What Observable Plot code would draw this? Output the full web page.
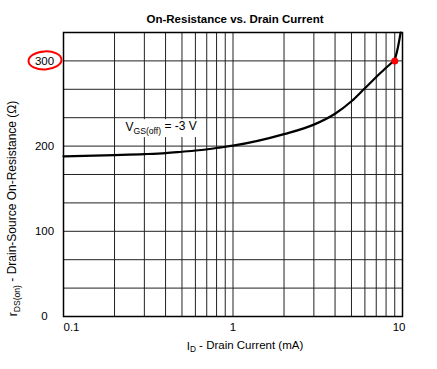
<!DOCTYPE html>
<html><head><meta charset="utf-8">
<script src="https://cdn.jsdelivr.net/npm/d3@7"></script>
<script src="https://cdn.jsdelivr.net/npm/@observablehq/plot@0.6"></script>
<style>body{margin:0;background:#fff}</style>
</head><body><div id="chart"></div>
<script>
const current = [0.1, 0.2, 0.3, 0.4, 0.5, 0.65, 0.85, 1, 2, 3, 4, 5, 6, 7, 8, 8.6, 9, 9.4, 9.75];
const resistance = [188, 189.5, 190.6, 191.8, 193.4, 195.4, 198.5, 200.5, 214, 225.2, 238, 252.6, 268, 281, 292, 297.5, 302, 316, 333.3];
const xGrid = [0.1,0.2,0.3,0.4,0.5,0.6,0.7,0.8,0.9,1,2,3,4,5,6,7,8,9,10];
const yGrid = [0, 33.33, 66.67, 100, 133.33, 166.67, 200, 233.33, 266.67, 300];
const yTicks = [0, 100, 200, 300];
const xTicks = [0.1, 1, 10];
const xTickLabels = ["0.1", "1", "10"];
const marker = [{I: 9, R: 300}];
const curveLabel = [{I: 0.232, R: 222, text: "V"}];
const title = "On-Resistance vs. Drain Current";
const xTitle = "ID - Drain Current (mA)";
const yTitle = "rDS(on) - Drain-Source On-Resistance (Ω)";

const data = current.map((d, i) => ({I: d, R: resistance[i]}));
const font = "'Liberation Sans', Arial, sans-serif";

const chart = Plot.plot({
  width: 437, height: 369,
  marginLeft: 63, marginRight: 35, marginTop: 32, marginBottom: 53,
  x: {type: "log", domain: [0.1, 10], axis: null},
  y: {domain: [0, 333.33], axis: null},
  style: {fontFamily: font, fontSize: "11px", background: "white", color: "black"},
  marks: [
    Plot.ruleX(xGrid, {stroke: "#222", strokeWidth: 1}),
    Plot.ruleY(yGrid, {stroke: "#222", strokeWidth: 1}),
    Plot.rect([{x1: 0.226, x2: 0.668, y1: 210, y2: 231}], {x1: "x1", x2: "x2", y1: "y1", y2: "y2", fill: "white"}),
    Plot.frame({stroke: "black", strokeWidth: 1.5}),
    Plot.line(data, {x: "I", y: "R", stroke: "black", strokeWidth: 2.2, curve: "monotone-x"}),
    Plot.dot(marker, {x: "I", y: "R", r: 3.5, fill: "red"}),
    Plot.text(curveLabel, {x: "I", y: "R", text: "text", textAnchor: "start", fontSize: 12, className: "vlab"}),
    Plot.text(yTicks, {x: () => 0.1, y: d => d, text: d => String(d), dx: -19, textAnchor: "middle", fontSize: 11.5}),
    Plot.text([xTicks[0]], {x: d => d, y: () => 0, text: () => xTickLabels[0], dy: 11, textAnchor: "start", fontSize: 11.5}),
    Plot.text([xTicks[1]], {x: d => d, y: () => 0, text: () => xTickLabels[1], dy: 11, textAnchor: "middle", fontSize: 11.5}),
    Plot.text([xTicks[2]], {x: d => d, y: () => 0, text: () => xTickLabels[2], dy: 11, textAnchor: "end", dx: 3, fontSize: 11.5}),
    Plot.text([title], {frameAnchor: "top", text: d => d, dy: -18, dx: 2, fontWeight: "bold", fontSize: 11.5}),
    Plot.text([xTitle], {frameAnchor: "bottom", text: d => d, dy: 33, dx: 12, fontSize: 11.5, className: "xlab"}),
    Plot.text([yTitle], {frameAnchor: "left", text: d => d, rotate: -90, textAnchor: "middle", dx: -50, dy: 34, fontSize: 12, className: "ylab"})
  ]
});
document.getElementById("chart").appendChild(chart);

const svg = d3.select(chart);
function sub(sel, main, subText, rest) {
  const t = svg.select(sel + " text");
  t.text(null);
  t.append("tspan").text(main);
  t.append("tspan").attr("dy", "0.3em").attr("font-size", "0.72em").text(subText);
  t.append("tspan").attr("dy", "-0.3em").text(rest);
}
sub(".vlab", "V", "GS(off)", " = -3 V");
sub(".xlab", "I", "D", " - Drain Current (mA)");
sub(".ylab", "r", "DS(on)", " - Drain-Source On-Resistance (Ω)");

// red hand-drawn highlight around the "300" tick label
const ys = chart.scale("y").apply(300);
const xs = chart.scale("x").apply(0.1) - 18;
svg.append("ellipse").attr("cx", xs).attr("cy", ys).attr("rx", 16.5).attr("ry", 9)
  .attr("fill", "none").attr("stroke", "red").attr("stroke-width", 2)
  .attr("transform", `rotate(-3 ${xs} ${ys})`);
</script></body></html>
